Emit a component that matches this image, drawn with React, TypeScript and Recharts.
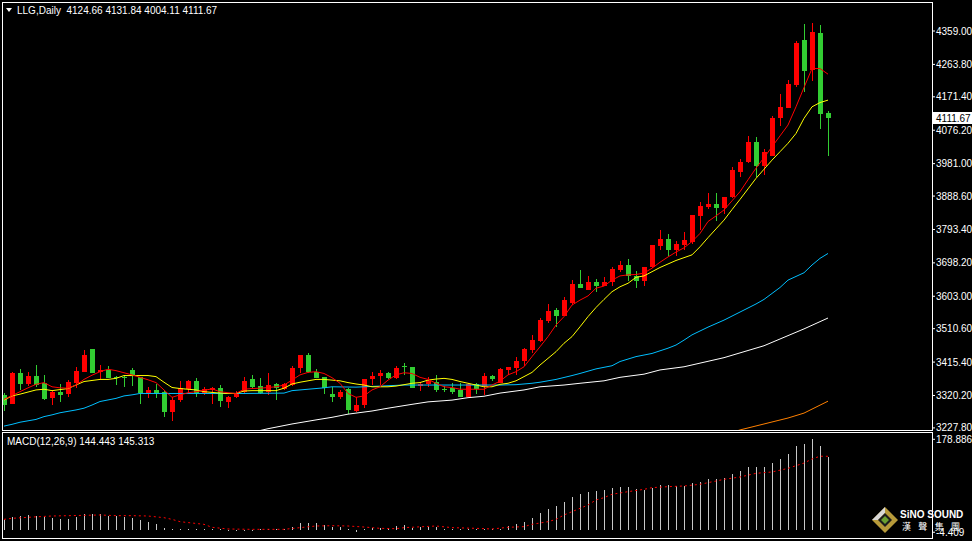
import React from "react";
import { ComposedChart, Bar, Line, XAxis, YAxis, ReferenceLine } from "recharts";

// daily OHLC, oldest first
const opens = [
  3321.6, 3297.9, 3385.3, 3353.0, 3375.8, 3356.8, 3314.0, 3331.1, 3324.4, 3354.9,
  3388.1, 3452.7, 3388.1, 3392.9, 3373.9, 3373.9, 3392.9, 3372.0, 3328.3, 3335.9,
  3331.1, 3274.1, 3305.5, 3337.8, 3361.5, 3326.4, 3337.8, 3340.6, 3302.6, 3314.0,
  3331.1, 3367.2, 3347.3, 3331.1, 3352.0, 3338.7, 3350.1, 3399.5, 3435.6, 3388.1,
  3372.0, 3324.5, 3316.9, 3337.8, 3276.9, 3291.2, 3366.3, 3376.7, 3385.3, 3371.0,
  3404.2, 3402.4, 3345.4, 3353.0, 3359.6, 3338.7, 3342.5, 3335.9, 3316.9, 3353.0,
  3347.3, 3375.8, 3355.8, 3392.9, 3399.4, 3419.3, 3449.9, 3475.5, 3533.3, 3563.8,
  3546.8, 3582.9, 3638.0, 3620.9, 3644.5, 3633.1, 3644.5, 3677.8, 3692.1, 3660.7,
  3644.5, 3687.3, 3747.1, 3766.2, 3734.9, 3749.1, 3758.5, 3831.8, 3856.5, 3866.0,
  3855.4, 3886.8, 3958.0, 3983.6, 4042.6, 3975.1, 4003.6, 4110.2, 4140.4, 4205.1,
  4333.4, 4247.9, 4354.2, 4124.66,
];
const highs = [
  3326.4, 3388.1, 3395.7, 3386.2, 3407.1, 3378.6, 3334.0, 3353.0, 3364.4, 3400.5,
  3449.9, 3452.7, 3407.1, 3404.2, 3375.8, 3378.6, 3398.6, 3373.9, 3345.4, 3353.0,
  3335.9, 3316.9, 3361.5, 3364.4, 3369.1, 3345.4, 3345.4, 3350.1, 3318.8, 3333.0,
  3373.9, 3378.6, 3371.0, 3383.4, 3356.8, 3354.9, 3404.2, 3435.6, 3442.3, 3395.7,
  3373.9, 3345.4, 3335.9, 3340.6, 3316.9, 3366.3, 3386.2, 3392.9, 3388.1, 3404.2,
  3413.7, 3402.4, 3359.6, 3373.9, 3378.6, 3348.2, 3354.9, 3354.9, 3354.9, 3356.8,
  3383.4, 3378.6, 3398.5, 3400.5, 3430.8, 3456.4, 3492.6, 3540.2, 3581.0, 3568.7,
  3600.0, 3649.4, 3677.9, 3660.7, 3651.3, 3657.0, 3685.5, 3703.5, 3709.2, 3675.0,
  3686.4, 3749.1, 3791.8, 3780.4, 3761.4, 3785.3, 3835.4, 3870.8, 3898.2, 3898.2,
  3886.8, 3972.3, 3993.3, 4059.7, 4056.9, 4021.8, 4116.8, 4179.5, 4219.4, 4330.5,
  4379.0, 4382.7, 4376.1, 4131.84,
];
const lows = [
  3274.1, 3296.0, 3335.9, 3345.4, 3345.4, 3307.4, 3293.1, 3302.6, 3316.8, 3340.6,
  3386.2, 3383.4, 3366.3, 3369.1, 3350.1, 3343.5, 3347.3, 3297.9, 3315.0, 3312.1,
  3258.0, 3248.5, 3302.6, 3326.4, 3315.0, 3321.6, 3297.9, 3288.4, 3283.6, 3312.1,
  3326.4, 3340.6, 3326.4, 3321.6, 3309.3, 3335.9, 3348.2, 3385.3, 3386.2, 3369.1,
  3326.4, 3302.6, 3309.3, 3267.4, 3275.0, 3283.6, 3350.1, 3350.1, 3369.1, 3366.3,
  3380.5, 3343.5, 3333.9, 3345.4, 3331.1, 3331.1, 3324.5, 3315.0, 3315.0, 3324.5,
  3321.6, 3362.5, 3355.8, 3378.6, 3378.6, 3405.1, 3441.3, 3470.6, 3527.6, 3514.6,
  3544.7, 3578.1, 3627.4, 3620.9, 3613.2, 3630.3, 3630.3, 3673.0, 3647.3, 3625.7,
  3633.1, 3684.4, 3734.9, 3718.6, 3718.6, 3734.9, 3753.9, 3791.8, 3851.7, 3818.3,
  3839.4, 3885.0, 3942.0, 3981.9, 3943.8, 3946.6, 4003.6, 4089.1, 4140.4, 4198.5,
  4186.0, 4217.4, 4079.7, 4004.11,
];
const closes = [
  3293.1, 3385.3, 3354.9, 3375.8, 3350.1, 3310.2, 3331.1, 3321.6, 3359.6, 3390.0,
  3435.6, 3385.3, 3392.9, 3371.0, 3370.1, 3371.0, 3375.8, 3326.4, 3335.9, 3328.3,
  3274.1, 3307.4, 3340.6, 3361.5, 3326.4, 3337.8, 3342.5, 3302.6, 3316.9, 3326.4,
  3361.5, 3345.4, 3328.3, 3350.1, 3340.6, 3353.0, 3399.5, 3435.6, 3388.1, 3371.0,
  3340.6, 3316.9, 3331.1, 3276.9, 3293.1, 3366.3, 3375.8, 3385.3, 3371.0, 3399.5,
  3400.5, 3343.5, 3352.0, 3362.5, 3335.9, 3335.9, 3331.1, 3316.9, 3353.0, 3337.8,
  3375.8, 3366.3, 3395.7, 3400.5, 3418.5, 3452.7, 3478.4, 3535.4, 3561.9, 3546.8,
  3592.4, 3638.0, 3627.4, 3644.5, 3633.1, 3644.5, 3680.7, 3692.1, 3661.6, 3646.5,
  3685.5, 3749.1, 3766.2, 3734.9, 3752.0, 3763.4, 3835.4, 3860.3, 3866.0, 3855.4,
  3886.8, 3962.9, 3985.6, 4041.8, 3975.1, 4014.1, 4111.9, 4142.4, 4208.0, 4325.7,
  4245.9, 4356.2, 4122.5, 4111.67,
];

// moving averages (red, yellow, blue, white, orange)
const maRed = [
  3309, 3320, 3331, 3342, 3352, 3357, 3345, 3342, 3341, 3350,
  3366, 3378, 3388, 3395, 3391, 3385, 3379, 3372, 3365, 3357,
  3336, 3315, 3322, 3328, 3331, 3335, 3339, 3331, 3328, 3326,
  3338, 3340, 3341, 3343, 3345, 3350, 3364, 3379, 3386, 3388,
  3383, 3371, 3355, 3326, 3315, 3319, 3336, 3345, 3364, 3379,
  3385, 3383, 3372, 3366, 3355, 3345, 3343, 3338, 3338, 3338,
  3338, 3350, 3361, 3379, 3388, 3402, 3431, 3459, 3488, 3521,
  3545, 3578, 3592, 3604, 3626, 3632, 3649, 3661, 3664, 3665,
  3669, 3683, 3700, 3715, 3729, 3741, 3759, 3782, 3816, 3832,
  3849, 3875, 3901, 3935, 3968, 3998, 4029, 4060, 4091, 4143,
  4198, 4252, 4252, 4236,
];
const maYellow = [
  3307, 3319, 3324, 3330, 3336, 3338, 3334, 3337, 3340, 3350,
  3360, 3363, 3366, 3366, 3369, 3377, 3377, 3377, 3377, 3374,
  3358, 3343, 3340, 3338, 3336, 3331, 3329, 3327, 3326, 3326,
  3333, 3334, 3334, 3334, 3334, 3341, 3353, 3358, 3362, 3366,
  3366, 3364, 3362, 3357, 3353, 3350, 3345, 3345, 3345, 3347,
  3351, 3355, 3357, 3364, 3367, 3369, 3366, 3360, 3355, 3350,
  3345, 3345, 3352, 3355, 3362, 3374, 3386, 3407, 3426, 3445,
  3469, 3488, 3516, 3545, 3571, 3594, 3616, 3630, 3640, 3657,
  3661, 3673, 3685, 3695, 3705, 3713, 3721, 3744, 3770, 3795,
  3820, 3850, 3879, 3909, 3939, 3965, 3991, 4015, 4039, 4067,
  4110, 4143, 4155, 4162,
];
const maBlue = [
  3233, 3238, 3244, null, 3252, 3260, 3265, 3271, null, 3279,
  3284, 3293, 3303, null, 3312, 3319, 3322, 3326, null, null,
  3326, null, null, null, null, 3326, null, null, null, null,
  3326, null, null, null, null, 3327, 3334, null, 3338, null,
  3342, 3345, null, null, 3344, null, null, 3347, null, null,
  3350, null, null, null, null, 3350, null, null, null, null,
  3350, null, 3350, null, 3351, null, 3355, 3358, null, 3366,
  null, 3377, 3383, null, 3396, null, 3405, 3417, null, 3431,
  null, 3440, null, 3455, 3464, 3478, 3493, null, 3515, null,
  3535, null, 3558, null, 3581, 3594, 3611, 3628, 3649, null,
  3670, 3692, 3711, 3725,
];
const maWhite = [
  null, null, null, null, null, null, null, null, null, null,
  null, null, null, null, null, null, null, null, null, null,
  null, null, null, null, null, null, null, null, null, null,
  null, 3215, null, 3225.5, null, null, 3239, null, null, 3250.6,
  null, 3258, null, 3267, null, null, 3276, null, 3284, null,
  null, 3295, null, 3302, null, null, 3307, null, 3314, null,
  3318, null, 3327, null, null, 3336, null, 3345, null, null,
  3350, null, 3355, null, null, 3362, null, 3372, null, null,
  3381, null, 3393, null, null, 3402, null, null, null, null,
  3428, null, null, null, null, 3462, null, null, null, null,
  3510, null, null, 3541,
];
const maOrange = [
  ...Array(90).fill(null),
  null, 3215, 3222, null, null, 3239, null, null, 3256, null,
  3270, null, null, 3304,
];

// MACD(12,26,9)
const macdMain = [
  19.7, 25.0, 27.6, 29.6, 28.3, 25.0, 24.3, 21.7, 21.7, 26.3,
  31.6, 31.6, 30.9, 28.3, 27.6, 26.3, 23.0, 19.7, 15.1, 11.2,
  4.6, 1.3, 2.0, 2.0, 2.0, 2.0, 2.0, 1.3, 0.7, 0.7,
  0.7, 0.7, 1.3, 1.3, 1.3, 2.0, 5.3, 13.1, 13.1, 13.1,
  9.9, 6.6, 5.3, 2.0, -4.409, 1.3, 3.9, 3.9, 2.0, 7.9,
  9.9, 4.6, 5.3, 5.3, 5.3, 2.6, 1.3, 1.3, 2.0, 2.0,
  1.3, 2.0, 2.6, 7.9, 11.8, 16.4, 24.3, 32.9, 41.4, 47.3,
  55.9, 65.7, 71.0, 75.6, 77.6, 78.9, 82.2, 85.5, 84.1, 80.2,
  78.9, 82.2, 88.7, 88.7, 86.8, 86.8, 93.4, 95.3, 100.6, 100.6,
  101.9, 110.5, 116.4, 123.6, 123.6, 124.9, 131.5, 140.0, 149.9, 166.3,
  169.6, 178.886, 165.7, 144.443,
];
const macdSignal = [
  21, 23, null, null, 26, null, 27.6, null, null, null,
  28.9, null, 29.6, null, 28.3, null, 28.3, null, 27.6, null,
  24.3, 21, 16.4, null, null, 11.2, 5.3, null, 2.0, null,
  null, 1.3, null, null, null, 1.3, null, 4.6, null, 7.9,
  null, 8.5, null, 7.9, null, 5.9, null, 3.3, null, 2.6,
  4.6, null, null, null, 7.9, null, 4.6, null, null, 3.3,
  null, 2.0, null, 5.3, null, 6.6, 11.2, null, 16.4, 21.0,
  29.6, null, 42.7, 49.3, 59.2, 63.8, 70.4, null, 75.6, null,
  80.2, 83.5, null, 85.5, null, 86.8, null, 90.1, null, 96.6,
  99.9, null, 104.5, null, 111.8, null, 114.4, null, 121.6, null,
  132, 140, 145.5, 145.313,
];

const priceTicks = [4359, 4263.8, 4171.4, 4076.2, 3981, 3888.6, 3793.4, 3698.2, 3603, 3510.6, 3415.4, 3320.2, 3227.8];
const macdTicks = [178.886, -4.409];
const lastClose = 4111.67;

const SLOTS = 116; // candles + empty right shift
const UP = "#ff0000";
const DOWN = "#32cd32";
const FONT = "'Liberation Sans', Arial, sans-serif";

const data = Array.from({ length: SLOTS }, (_, i) =>
  i < opens.length
    ? {
        k: i,
        open: opens[i], high: highs[i], low: lows[i], close: closes[i],
        hl: [lows[i], highs[i]],
        red: maRed[i], yellow: maYellow[i], blue: maBlue[i], white: maWhite[i], orange: maOrange[i],
        macd: macdMain[i], signal: macdSignal[i],
      }
    : { k: i }
);

function Candle(props: any) {
  const { x, y, width, height, payload } = props;
  if (!payload || payload.open == null) return null;
  const { open, close, high, low } = payload;
  const top = Math.min(y, y + height);
  const h = Math.abs(height);
  const ratio = h / (high - low);
  const cx = Math.floor(x + width / 2);
  const color = close >= open ? UP : DOWN;
  const bodyTop = top + (high - Math.max(open, close)) * ratio;
  const bodyH = Math.abs(open - close) * ratio;
  return (
    <g>
      <rect x={cx} y={Math.round(top)} width={1} height={Math.max(1, Math.round(h))} fill={color} />
      <rect x={cx - 2} y={Math.round(bodyTop)} width={5} height={Math.max(1, Math.round(bodyH))} fill={color} />
    </g>
  );
}

function Histo(props: any) {
  const { x, y, width, height } = props;
  if (height == null || isNaN(y)) return null;
  const top = Math.min(y, y + height);
  const cx = Math.floor(x + width / 2);
  return <rect x={cx} y={Math.round(top)} width={1} height={Math.max(1, Math.round(Math.abs(height)))} fill="#c8c8c8" />;
}

function PriceTag(props: any) {
  const vb = props.viewBox || {};
  const x = vb.x + vb.width + 1;
  const y = vb.y;
  return (
    <g>
      <rect x={x} y={Math.round(y) - 6} width={39} height={12} fill="#fff" />
      <text x={x + 3} y={Math.round(y) + 4} fontSize={10} fontFamily={FONT} fill="#000">
        {lastClose.toFixed(2)}
      </text>
    </g>
  );
}

const axisTick = { fill: "#fff", fontSize: 10, fontFamily: FONT };

export default function App() {
  return (
    <div style={{ position: "absolute", left: 0, top: 0, width: 972, height: 541, background: "#000", overflow: "hidden" }}>
      <div style={{ position: "absolute", left: 0, top: 0 }}>
        <ComposedChart width={972} height={432} data={data} margin={{ top: 3, right: 0, bottom: 2, left: 0 }}>
          <XAxis dataKey="k" hide padding={{ left: 0, right: 4 }} />
          <YAxis
            orientation="right" width={40} domain={[3221.85, 4438.8]} allowDataOverflow
            ticks={priceTicks} interval={0} tickFormatter={(v: number) => v.toFixed(2)}
            axisLine={false} tickLine={{ stroke: "#fff" }} tickSize={3} tickMargin={1} tick={axisTick}
          />
          <Bar dataKey="hl" barSize={5} shape={<Candle />} isAnimationActive={false} />
          <Line type="linear" dataKey="orange" stroke="#ff8000" strokeWidth={1} dot={false} connectNulls isAnimationActive={false} />
          <Line type="linear" dataKey="white" stroke="#ffffff" strokeWidth={1} dot={false} connectNulls isAnimationActive={false} />
          <Line type="linear" dataKey="blue" stroke="#00bfff" strokeWidth={1} dot={false} connectNulls isAnimationActive={false} />
          <Line type="linear" dataKey="yellow" stroke="#ffff00" strokeWidth={1} dot={false} connectNulls isAnimationActive={false} />
          <Line type="linear" dataKey="red" stroke="#ff0000" strokeWidth={1} dot={false} connectNulls isAnimationActive={false} />
          <ReferenceLine y={lastClose} stroke="none" label={<PriceTag />} />
        </ComposedChart>
      </div>

      <div style={{ position: "absolute", left: 0, top: 432 }}>
        <ComposedChart width={972} height={106} data={data} margin={{ top: 1, right: 0, bottom: 1, left: 0 }}>
          <XAxis dataKey="k" hide padding={{ left: 0, right: 4 }} />
          <YAxis
            orientation="right" width={40} domain={[-13.8, 191.3]} allowDataOverflow
            ticks={macdTicks} interval={0} tickFormatter={(v: number) => v.toFixed(3)}
            axisLine={false} tickLine={{ stroke: "#fff" }} tickSize={3} tickMargin={1} tick={axisTick}
          />
          <Bar dataKey="macd" barSize={1} shape={<Histo />} isAnimationActive={false} />
          <Line type="linear" dataKey="signal" stroke="#ff0000" strokeWidth={1} strokeDasharray="2 3" dot={false} connectNulls isAnimationActive={false} />
        </ComposedChart>
      </div>

      {/* panel frames */}
      <div style={{ position: "absolute", left: 2, top: 2, width: 931, height: 429, border: "1px solid #fff", boxSizing: "border-box" }} />
      <div style={{ position: "absolute", left: 2, top: 432, width: 931, height: 107, border: "1px solid #fff", boxSizing: "border-box" }} />

      <svg width={972} height={541} style={{ position: "absolute", left: 0, top: 0, pointerEvents: "none" }}>
        <polygon points="6,8 12,8 9,12" fill="#fff" />
        <text x={17} y={14} fontSize={10} fontFamily={FONT} fill="#fff" xmlSpace="preserve">
          LLG,Daily  4124.66 4131.84 4004.11 4111.67
        </text>
        <text x={7} y={445} fontSize={10} fontFamily={FONT} fill="#fff">
          MACD(12,26,9) 144.443 145.313
        </text>
        <g>
          <polygon points="885,507 898,520 885,533 872,520" fill="#b79a3a" />
          <polygon points="885,507 872,520 878,520 885,513" fill="#d8d8d8" />
          <polygon points="885,513 892,520 885,527 878,520" fill="#1c1c1c" />
          <polygon points="885,516 889,520 885,524 881,520" fill="#6aa030" />
          <text x={900} y={518} fontSize={10} fontWeight="bold" fontFamily={FONT} fill="#fff">SiNO SOUND</text>
          <text x={902} y={530} fontSize={9} fontFamily="'Noto Sans CJK TC', sans-serif" fill="#fff" textLength={58} lengthAdjust="spacing">
            漢聲集團
          </text>
        </g>
      </svg>
    </div>
  );
}
